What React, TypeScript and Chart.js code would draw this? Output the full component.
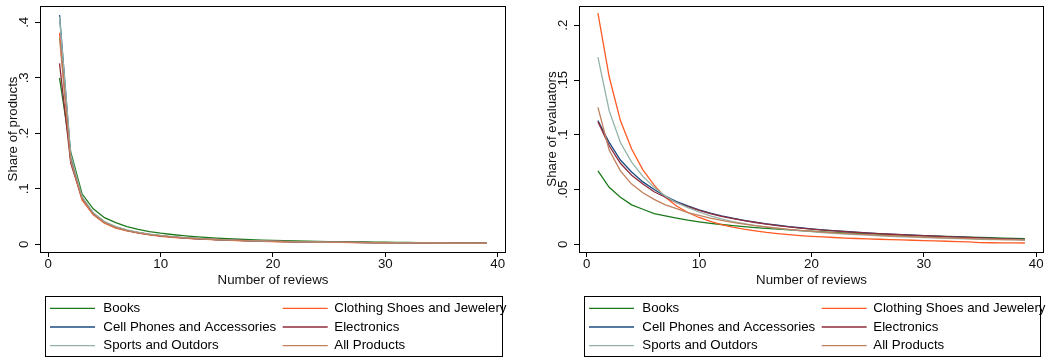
import { useEffect, useRef } from "react";
import { Chart, registerables } from "chart.js";

Chart.register(...registerables);

// Number of reviews on the horizontal axis
const reviewCounts = [
  1, 2, 3, 4, 5, 6, 7, 8, 9, 10, 11, 12, 13, 14, 15, 16, 17, 18, 19, 20,
  21, 22, 23, 24, 25, 26, 27, 28, 29, 30, 31, 32, 33, 34, 35, 36, 37, 38, 39,
];

const seriesNames = [
  "Books",
  "Clothing Shoes and Jewelery",
  "Cell Phones and Accessories",
  "Electronics",
  "Sports and Outdors",
  "All Products",
];

const seriesColors = ["#1c7a1c", "#ff5a24", "#1b4b80", "#8e2c3c", "#93b3a8", "#c0805e"];

const xTicks = [0, 10, 20, 30, 40];
const productTicks = [0, 0.1, 0.2, 0.3, 0.4];
const evaluatorTicks = [0, 0.05, 0.1, 0.15, 0.2];

// Share of products by number of reviews
const prodBooks = [0.300, 0.166, 0.091, 0.064, 0.048, 0.039, 0.032, 0.027, 0.023, 0.020, 0.0176, 0.0156, 0.0139, 0.0124, 0.0111, 0.0100, 0.0091, 0.0083, 0.0076, 0.0070, 0.0065, 0.0060, 0.0056, 0.0052, 0.0049, 0.0046, 0.0043, 0.0041, 0.0039, 0.0037, 0.0035, 0.0033, 0.0031, 0.0030, 0.0028, 0.0027, 0.0026, 0.0025, 0.0024];
const prodClothing = [0.381, 0.150, 0.080, 0.053, 0.038, 0.029, 0.024, 0.020, 0.017, 0.0145, 0.0126, 0.0111, 0.0098, 0.0088, 0.0079, 0.0071, 0.0065, 0.0059, 0.0054, 0.0050, 0.0046, 0.0043, 0.0040, 0.0037, 0.0035, 0.0033, 0.0031, 0.0029, 0.0028, 0.0026, 0.0025, 0.0024, 0.0023, 0.0022, 0.0021, 0.0020, 0.0019, 0.0018, 0.0018];
const prodCell = [0.413, 0.158, 0.084, 0.056, 0.040, 0.031, 0.025, 0.021, 0.018, 0.0153, 0.0133, 0.0117, 0.0104, 0.0093, 0.0084, 0.0076, 0.0069, 0.0063, 0.0058, 0.0053, 0.0049, 0.0046, 0.0043, 0.0040, 0.0038, 0.0036, 0.0034, 0.0032, 0.0030, 0.0029, 0.0027, 0.0026, 0.0025, 0.0024, 0.0023, 0.0022, 0.0021, 0.0020, 0.0019];
const prodElectronics = [0.326, 0.146, 0.083, 0.055, 0.040, 0.031, 0.025, 0.021, 0.018, 0.0155, 0.0135, 0.0119, 0.0106, 0.0095, 0.0086, 0.0078, 0.0071, 0.0065, 0.0060, 0.0055, 0.0051, 0.0047, 0.0044, 0.0041, 0.0039, 0.0037, 0.0035, 0.0033, 0.0031, 0.0029, 0.0028, 0.0027, 0.0025, 0.0024, 0.0023, 0.0022, 0.0021, 0.0020, 0.0020];
const prodSports = [0.410, 0.161, 0.086, 0.057, 0.041, 0.032, 0.026, 0.022, 0.0185, 0.0158, 0.0137, 0.0120, 0.0107, 0.0096, 0.0086, 0.0078, 0.0071, 0.0065, 0.0059, 0.0055, 0.0051, 0.0047, 0.0044, 0.0041, 0.0039, 0.0037, 0.0035, 0.0033, 0.0031, 0.0029, 0.0028, 0.0027, 0.0025, 0.0024, 0.0023, 0.0022, 0.0021, 0.0020, 0.0020];
const prodAll = [0.372, 0.150, 0.082, 0.054, 0.039, 0.030, 0.0245, 0.0205, 0.0175, 0.0151, 0.0131, 0.0116, 0.0103, 0.0092, 0.0083, 0.0075, 0.0068, 0.0062, 0.0057, 0.0053, 0.0049, 0.0045, 0.0042, 0.0040, 0.0037, 0.0035, 0.0033, 0.0031, 0.0030, 0.0028, 0.0027, 0.0026, 0.0025, 0.0024, 0.0023, 0.0022, 0.0021, 0.0020, 0.0019];

// Share of evaluators by number of reviews
const evalBooks = [0.067, 0.052, 0.043, 0.036, 0.032, 0.028, 0.026, 0.024, 0.022, 0.0205, 0.0192, 0.0181, 0.0171, 0.0162, 0.0153, 0.0145, 0.0138, 0.0131, 0.0125, 0.0119, 0.0113, 0.0108, 0.0103, 0.0099, 0.0095, 0.0091, 0.0087, 0.0084, 0.0081, 0.0078, 0.0075, 0.0072, 0.0069, 0.0066, 0.0063, 0.0060, 0.0057, 0.0054, 0.0052];
const evalClothing = [0.211, 0.153, 0.113, 0.087, 0.068, 0.054, 0.043, 0.035, 0.029, 0.0245, 0.021, 0.018, 0.0157, 0.0138, 0.0122, 0.0108, 0.0097, 0.0088, 0.0080, 0.0073, 0.0067, 0.0062, 0.0057, 0.0053, 0.0049, 0.0046, 0.0043, 0.0040, 0.0037, 0.0034, 0.0031, 0.0028, 0.0025, 0.0022, 0.0016, 0.0014, 0.0013, 0.0013, 0.0012];
const evalCell = [0.113, 0.093, 0.077, 0.066, 0.057, 0.050, 0.044, 0.039, 0.035, 0.0315, 0.0285, 0.026, 0.0238, 0.0219, 0.0202, 0.0187, 0.0174, 0.0162, 0.0151, 0.0141, 0.0132, 0.0124, 0.0117, 0.0110, 0.0104, 0.0098, 0.0093, 0.0088, 0.0083, 0.0079, 0.0075, 0.0071, 0.0067, 0.0063, 0.0059, 0.0055, 0.0051, 0.0047, 0.0044];
const evalElectronics = [0.112, 0.090, 0.074, 0.063, 0.055, 0.048, 0.043, 0.038, 0.0345, 0.031, 0.028, 0.0256, 0.0235, 0.0216, 0.0199, 0.0184, 0.0171, 0.0159, 0.0148, 0.0139, 0.0130, 0.0122, 0.0115, 0.0108, 0.0102, 0.0097, 0.0092, 0.0087, 0.0082, 0.0078, 0.0074, 0.0070, 0.0066, 0.0062, 0.0058, 0.0054, 0.0050, 0.0046, 0.0043];
const evalSports = [0.171, 0.122, 0.093, 0.075, 0.062, 0.052, 0.044, 0.038, 0.0335, 0.0295, 0.026, 0.0232, 0.0208, 0.0188, 0.0171, 0.0157, 0.0145, 0.0134, 0.0124, 0.0115, 0.0107, 0.0100, 0.0094, 0.0088, 0.0083, 0.0078, 0.0073, 0.0069, 0.0065, 0.0061, 0.0058, 0.0055, 0.0052, 0.0049, 0.0046, 0.0044, 0.0042, 0.0040, 0.0038];
const evalAll = [0.125, 0.086, 0.067, 0.055, 0.047, 0.041, 0.036, 0.0325, 0.029, 0.0265, 0.024, 0.0219, 0.0201, 0.0185, 0.0171, 0.0158, 0.0147, 0.0137, 0.0128, 0.0120, 0.0112, 0.0105, 0.0099, 0.0093, 0.0088, 0.0083, 0.0078, 0.0074, 0.0070, 0.0066, 0.0062, 0.0059, 0.0056, 0.0053, 0.0050, 0.0047, 0.0044, 0.0042, 0.0040];

const FONT_FAMILY = "'Liberation Sans', Arial, sans-serif";
const FONT_SIZE = 13.3;
const CANVAS_H = 358;

// ".05" style labels: no leading zero
const fmtShare = (v: number) => (v === 0 ? "0" : String(+v.toFixed(3)).replace(/^0\./, "."));

type PanelProps = {
  left: number;
  width: number;
  series: number[][];
  yTicks: number[];
  yMin: number;
  yMax: number;
  xMin: number;
  xMax: number;
  yTitle: string;
  padLeft: number;
  padRight: number;
};

function Panel(props: PanelProps) {
  const ref = useRef<HTMLCanvasElement | null>(null);

  useEffect(() => {
    const { series, yTicks, yMin, yMax, xMin, xMax, yTitle, padLeft, padRight } = props;
    const font = `${FONT_SIZE}px ${FONT_FAMILY}`;

    // Frame around plot region, vertical y tick labels and boxed legend
    const decor = {
      id: "decor",
      afterDraw(chart: any) {
        const { ctx, chartArea: a } = chart;
        ctx.save();
        ctx.strokeStyle = "#000";
        ctx.lineWidth = 1;
        const l = Math.round(a.left) + 0.5;
        const t = Math.round(a.top) + 0.5;
        const r = Math.round(a.right) - 0.5;
        const b = Math.round(a.bottom) + 0.5;
        ctx.strokeRect(l, t, r - l, b - t);

        const ys = chart.scales.y;
        ctx.font = font;
        ctx.fillStyle = "#111";
        ys.ticks.forEach((tk: any) => {
          const py = ys.getPixelForValue(tk.value);
          ctx.save();
          ctx.translate(a.left - 12, py);
          ctx.rotate(-Math.PI / 2);
          ctx.textAlign = "center";
          ctx.textBaseline = "alphabetic";
          ctx.fillText(fmtShare(tk.value), 0, 0);
          ctx.restore();
        });

        // legend box
        const bx = Math.round(a.left + 5);
        const bw = Math.round(a.right - 4.5) - bx;
        const by = 296;
        const bh = 60;
        ctx.strokeStyle = "#000";
        ctx.strokeRect(bx + 0.5, by + 0.5, bw, bh);
        const rowY = [by + 12.3, by + 31, by + 49.7];
        const colLine = [5, 237.7];
        const colText = [58.3, 289.3];
        chart.data.datasets.forEach((ds: any, i: number) => {
          const row = Math.floor(i / 2);
          const col = i % 2;
          const y = rowY[row];
          ctx.strokeStyle = ds.borderColor;
          ctx.lineWidth = 1.3;
          ctx.beginPath();
          ctx.moveTo(bx + colLine[col], y);
          ctx.lineTo(bx + colLine[col] + 45, y);
          ctx.stroke();
          ctx.fillStyle = "#000";
          ctx.textAlign = "left";
          ctx.textBaseline = "middle";
          ctx.fillText(ds.label, bx + colText[col], y);
        });
        ctx.restore();
      },
    };

    const chart = new Chart(ref.current as HTMLCanvasElement, {
      type: "line",
      data: {
        datasets: series.map((vals, i) => ({
          label: seriesNames[i],
          data: reviewCounts.map((n, k) => ({ x: n, y: vals[k] })),
          borderColor: seriesColors[i],
          backgroundColor: seriesColors[i],
          borderWidth: 1.3,
          pointRadius: 0,
          tension: 0,
          fill: false,
          order: -i,
        })),
      },
      options: {
        responsive: false,
        animation: false,
        devicePixelRatio: 1,
        events: [],
        layout: { padding: { left: padLeft, right: padRight, top: 6, bottom: 66 } },
        plugins: { legend: { display: false }, tooltip: { enabled: false } },
        scales: {
          x: {
            type: "linear",
            min: xMin,
            max: xMax,
            afterBuildTicks: (s: any) => {
              s.ticks = xTicks.map((v) => ({ value: v }));
            },
            afterFit: (s: any) => {
              s.height = 40;
            },
            border: { display: false },
            grid: {
              drawOnChartArea: false,
              drawTicks: true,
              tickLength: 5,
              color: "#000",
              lineWidth: 1,
            },
            ticks: {
              autoSkip: false,
              maxRotation: 0,
              padding: 0,
              color: "#111",
              font: { family: FONT_FAMILY, size: FONT_SIZE, lineHeight: 1.1 },
              callback: (v: any) => String(v),
            },
            title: {
              display: true,
              text: "Number of reviews",
              color: "#111",
              font: { family: FONT_FAMILY, size: FONT_SIZE },
              padding: { top: 0, bottom: 4 },
            },
          },
          y: {
            type: "linear",
            min: yMin,
            max: yMax,
            afterBuildTicks: (s: any) => {
              s.ticks = yTicks.map((v) => ({ value: v }));
            },
            afterFit: (s: any) => {
              s.width = 40;
            },
            border: { display: false },
            grid: {
              drawOnChartArea: false,
              drawTicks: true,
              tickLength: 5,
              color: "#000",
              lineWidth: 1,
            },
            ticks: { display: false },
            title: {
              display: true,
              text: yTitle,
              color: "#111",
              font: { family: FONT_FAMILY, size: FONT_SIZE },
              padding: { top: 5, bottom: 0 },
            },
          },
        },
      },
      plugins: [decor],
    } as any);

    return () => chart.destroy();
  }, []);

  return (
    <canvas
      ref={ref}
      width={props.width}
      height={CANVAS_H}
      style={{ position: "absolute", left: props.left, top: 0, width: props.width, height: CANVAS_H }}
    />
  );
}

export default function App() {
  return (
    <div style={{ position: "absolute", left: 0, top: 0, width: 1047, height: CANVAS_H, background: "#fff" }}>
      <Panel
        left={0}
        width={523}
        series={[prodBooks, prodClothing, prodCell, prodElectronics, prodSports, prodAll]}
        yTicks={productTicks}
        yMin={-0.0139}
        yMax={0.4294}
        xMin={-0.739}
        xMax={40.74}
        yTitle="Share of products"
        padLeft={0}
        padRight={17}
      />
      <Panel
        left={523}
        width={524}
        series={[evalBooks, evalClothing, evalCell, evalElectronics, evalSports, evalAll]}
        yTicks={evaluatorTicks}
        yMin={-0.00703}
        yMax={0.2176}
        xMin={-0.685}
        xMax={40.70}
        yTitle="Share of evaluators"
        padLeft={16}
        padRight={3}
      />
    </div>
  );
}
